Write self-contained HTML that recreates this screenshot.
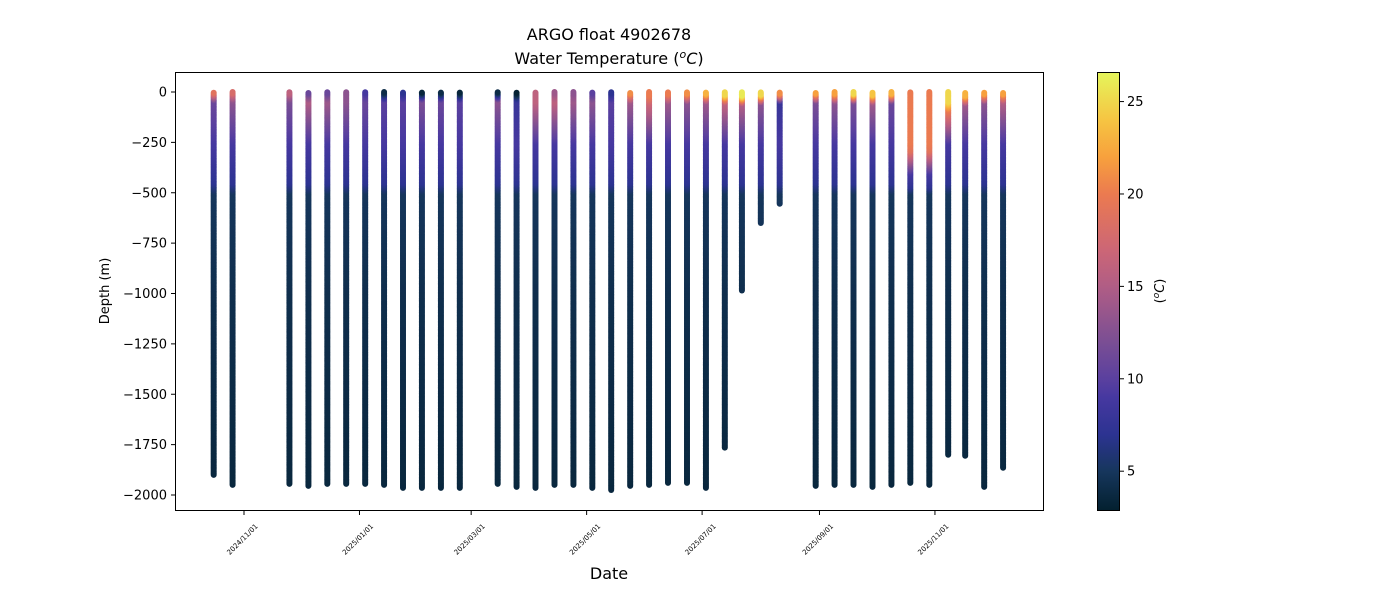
<!DOCTYPE html>
<html><head><meta charset="utf-8"><style>
body{margin:0;background:#fff;font-family:"Liberation Sans","DejaVu Sans",sans-serif}
svg text{font-family:"DejaVu Sans","Liberation Sans",sans-serif;fill:#000}
</style></head><body>
<svg id="chart" width="1400" height="600" xmlns="http://www.w3.org/2000/svg">
<defs><linearGradient id="cbgrad" x1="0" y1="1" x2="0" y2="0"></linearGradient></defs>
<text x="609" y="40" font-size="16" text-anchor="middle">ARGO float 4902678</text>
<text x="609" y="64" font-size="16" text-anchor="middle">Water Temperature (<tspan font-style="italic" font-size="11" dy="-6">o</tspan><tspan font-style="italic" dy="6">C</tspan>)</text>
<g id="plot"></g>
<rect x="175.5" y="72.5" width="868" height="438" fill="none" stroke="#000" stroke-width="1"/>
<g id="xaxis"></g>
<g id="yaxis"></g>
<text x="609" y="579" font-size="16" text-anchor="middle">Date</text>
<text transform="translate(109,291) rotate(-90)" font-size="13" text-anchor="middle">Depth (m)</text>
<g id="cbar"></g>
<text transform="translate(1164,291) rotate(-90)" font-size="13" text-anchor="middle">(<tspan font-style="italic" font-size="9" dy="-5">o</tspan><tspan font-style="italic" dy="5">C</tspan>)</text>
</svg>
<script>
const dates=["2024-10-16","2024-10-26","2024-11-25","2024-12-05","2024-12-15","2024-12-25","2025-01-04","2025-01-14","2025-01-24","2025-02-03","2025-02-13","2025-02-23","2025-03-15","2025-03-25","2025-04-04","2025-04-14","2025-04-24","2025-05-04","2025-05-14","2025-05-24","2025-06-03","2025-06-13","2025-06-23","2025-07-03","2025-07-13","2025-07-22","2025-08-01","2025-08-11","2025-08-30","2025-09-09","2025-09-19","2025-09-29","2025-10-09","2025-10-19","2025-10-29","2025-11-08","2025-11-17","2025-11-27","2025-12-07"];
const depthsMax=[1900,1950,1945,1955,1945,1945,1945,1950,1965,1965,1965,1965,1945,1960,1965,1950,1950,1965,1975,1955,1950,1940,1940,1965,1765,985,650,555,1955,1950,1950,1960,1950,1940,1950,1800,1805,1960,1865];
const surfT=[19,18,16,11,11,13,9,4,7,3.5,4,3.5,4,3,16,14,13,10,7,21,20,20,21,23,25,26,25,21,22,22,25,24,23,20,20,25,23,22,22];
const t50=[11,13,12,15,14,13,11,10,10,12,11,10,13,8,16,16,14,13,10,14,17,14,13,14,16,15,13,8,12,13,12,14,11,19,19,20,14,13,15];
const mld=[5,5,5,5,5,5,5,3,3,3,3,3,3,3,5,5,5,5,5,8,15,10,10,10,15,20,15,10,8,10,10,15,10,250,250,50,20,10,10];
const cbTicks=[5,10,15,20,25];
const yTicks=[0,-250,-500,-750,-1000,-1250,-1500,-1750,-2000];
const xTickDates=["2024-11-01","2025-01-01","2025-03-01","2025-05-01","2025-07-01","2025-09-01","2025-11-01"];
</script>
<script>
const NS="http://www.w3.org/2000/svg";
const day=86400000, t0=Date.UTC(2024,10,1);
function xScale(ds){const p=ds.split('-').map(Number);return 244+(Date.UTC(p[0],p[1]-1,p[2])-t0)/day*1.893;}
function yScale(v){return 92+(-v)*0.2015;}
const TMIN=2.9,TMAX=26.6;
function cbY(t){return 510-(t-TMIN)/(TMAX-TMIN)*438;}
const stops=[[2.9,[3,32,47]],[5,[22,54,92]],[7,[44,51,145]],[9,[70,56,160]],[10,[90,64,159]],[12,[122,78,148]],[15,[176,93,133]],[17,[204,102,118]],[20,[235,122,80]],[22,[247,160,61]],[24,[246,196,66]],[26.6,[229,245,91]]];
function cmap(t){if(t<=stops[0][0])return 'rgb('+stops[0][1]+')';for(let i=1;i<stops.length;i++){if(t<=stops[i][0]){const a=stops[i-1],b=stops[i],f=(t-a[0])/(b[0]-a[0]);const c=a[1].map((v,k)=>Math.round(v+(b[1][k]-v)*f));return 'rgb('+c+')';}}return 'rgb('+stops[stops.length-1][1]+')';}
function tempAt(i,z){const Ts=surfT[i],T5=t50[i],m=mld[i];
 let k=[[0,Ts],[m,Ts],[m+40,T5]];
 const d1=Math.max(250,m+150),d2=Math.max(450,d1+70),d3=Math.max(500,d2+30);
 k.push([d1,9],[d2,7],[d3,5],[1000,4.3],[2100,3.5]);
 for(let j=1;j<k.length;j++){if(z<=k[j][0]){const a=k[j-1],b=k[j];const f=b[0]==a[0]?1:(z-a[0])/(b[0]-a[0]);return a[1]+(b[1]-a[1])*f;}}return 3.5;}
const plot=document.getElementById('plot');
dates.forEach((d,i)=>{
 const g=document.createElementNS(NS,'g');
 
 
 const x=xScale(d);const md=depthsMax[i];
 for(let z=md;z>=0;z-=6){
  const c=document.createElementNS(NS,'circle');
  c.setAttribute('cx',x.toFixed(1));c.setAttribute('cy',yScale(-z).toFixed(1));c.setAttribute('r','3');
  c.setAttribute('fill',cmap(tempAt(i,z)));g.appendChild(c);}
 plot.appendChild(g);});
const xa=document.getElementById('xaxis');
xTickDates.forEach(d=>{const x=xScale(d);
 const l=document.createElementNS(NS,'line');l.setAttribute('x1',x);l.setAttribute('x2',x);l.setAttribute('y1',511);l.setAttribute('y2',515);l.setAttribute('stroke','#000');
 
 xa.appendChild(l);
 const t=document.createElementNS(NS,'text');t.setAttribute('font-size','7');t.setAttribute('text-anchor','middle');
 t.setAttribute('transform','translate('+x+',541) rotate(-45)');t.textContent=d.replace(/-/g,'/');
 
 xa.appendChild(t);});
const ya=document.getElementById('yaxis');
yTicks.forEach(v=>{const y=yScale(v);
 const l=document.createElementNS(NS,'line');l.setAttribute('x1',171);l.setAttribute('x2',175);l.setAttribute('y1',y);l.setAttribute('y2',y);l.setAttribute('stroke','#000');
 
 ya.appendChild(l);
 const t=document.createElementNS(NS,'text');t.setAttribute('font-size','13');t.setAttribute('text-anchor','end');t.setAttribute('x',167);t.setAttribute('y',y+4.5);
 t.textContent=v<0?'\u2212'+(-v):String(v);
 
 ya.appendChild(t);});
const grad=document.getElementById('cbgrad');
stops.forEach(s=>{const st=document.createElementNS(NS,'stop');st.setAttribute('offset',((s[0]-TMIN)/(TMAX-TMIN)).toFixed(4));st.setAttribute('stop-color','rgb('+s[1]+')');grad.appendChild(st);});
const cb=document.getElementById('cbar');
const r=document.createElementNS(NS,'rect');r.setAttribute('x',1097.5);r.setAttribute('y',72.5);r.setAttribute('width',22);r.setAttribute('height',438);r.setAttribute('fill','url(#cbgrad)');r.setAttribute('stroke','#000');

cb.appendChild(r);
cbTicks.forEach(v=>{const y=cbY(v);
 const l=document.createElementNS(NS,'line');l.setAttribute('x1',1120);l.setAttribute('x2',1124);l.setAttribute('y1',y);l.setAttribute('y2',y);l.setAttribute('stroke','#000');
 
 cb.appendChild(l);
 const t=document.createElementNS(NS,'text');t.setAttribute('font-size','13');t.setAttribute('x',1127);t.setAttribute('y',y+4.5);t.textContent=v;
 
 cb.appendChild(t);});
</script>
</body></html>
